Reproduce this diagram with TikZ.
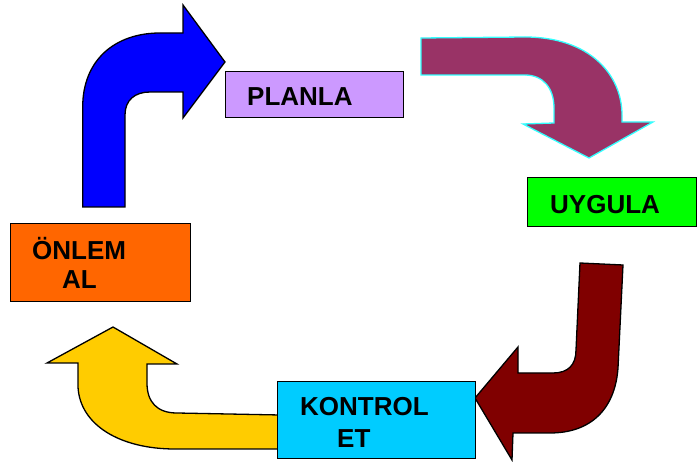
\documentclass[tikz,border=0pt]{standalone}
\usepackage{fontspec}
\setmainfont{Liberation Sans}
\usepackage{xcolor}
\usetikzlibrary{positioning}
\definecolor{planlaC}{HTML}{CC99FF}
\definecolor{uygulaC}{HTML}{00FF00}
\definecolor{kontrolC}{HTML}{00CCFF}
\definecolor{onlemC}{HTML}{FF6600}
\definecolor{blueArr}{HTML}{0000FF}
\definecolor{plumArr}{HTML}{993366}
\definecolor{maroonArr}{HTML}{800000}
\definecolor{goldArr}{HTML}{FFCC00}
\definecolor{plumEdge}{HTML}{33FFFF}
\tikzset{
  stepbox/.style={
    draw, rectangle, line width=1.3pt, anchor=north west,
    inner sep=0pt
  },
  steptxt/.style={
    anchor=base west, align=left, inner sep=0pt,
    font=\fontsize{26}{30}\selectfont\bfseries
  },
  bigarr/.style={draw=black, line width=1.3pt, line join=miter},
}

\begin{document}
\begin{tikzpicture}[x=1pt, y=-1pt]
\useasboundingbox (0,0) rectangle (697,462);

% Block arrows (drawn first, boxes sit on top)
\draw[bigarr, fill=blueArr] (82.7,207) -- (82.7,107)
     .. controls (82.7,60) and (115,33) .. (160,33) -- (183,33) -- (183,5)
     -- (225,62) -- (183,118) -- (183,92) -- (150,92)
     .. controls (135,92) and (125,100) .. (125,115) -- (125,207) -- cycle;

\draw[bigarr, draw=plumEdge, fill=plumArr] (421,38) -- (525,37)
     .. controls (590,37) and (622,75) .. (622,115) -- (622,122) -- (653,122)
     -- (589,158) -- (523,124) -- (554,123) -- (554,108)
     .. controls (554,88) and (543,75) .. (525,75) -- (421,75) -- cycle;

\draw[bigarr, fill=maroonArr] (580,263) -- (623,265) -- (618,368)
     .. controls (615,410) and (590,433) .. (550,433) -- (513,433) -- (512,460)
     -- (475,398) -- (518,347) -- (518,373) -- (553,373)
     .. controls (568,373) and (576,365) .. (576,350) -- cycle;

\draw[bigarr, fill=goldArr] (113,327) -- (177,364) -- (147,364) -- (147,383)
     .. controls (147,402) and (157,413) .. (177,413) -- (280,415) -- (280,449)
     -- (175,449) .. controls (120,449) and (80,425) .. (78,387)
     -- (78,363) -- (47,363) -- cycle;

% Step boxes
\node[stepbox, fill=planlaC,  minimum width=178pt, minimum height=46pt] (planla)  at (225,71)  {};
\node[stepbox, fill=uygulaC,  minimum width=169pt, minimum height=49pt] (uygula)  at (527,177) {};
\node[stepbox, fill=kontrolC, minimum width=198pt, minimum height=77pt] (kontrol) at (277,381) {};
\node[stepbox, fill=onlemC,   minimum width=180pt, minimum height=78pt] (onlem)   at (10,223)  {};

% Box texts (multi-line: base is the last line)
\node[steptxt] (planla-t)  at (247,105.7) {PLANLA};
\node[steptxt] (uygula-t)  at (550,213.3) {UYGULA};
\node[steptxt] (kontrol-t) at (300,447.3) {KONTROL\\[1.6pt]\hspace*{37pt}ET};
\node[steptxt] (onlem-t)   at (32,289)    {ÖNLEM\\[-1pt]\hspace*{30pt}AL};

\end{tikzpicture}
\end{document}
